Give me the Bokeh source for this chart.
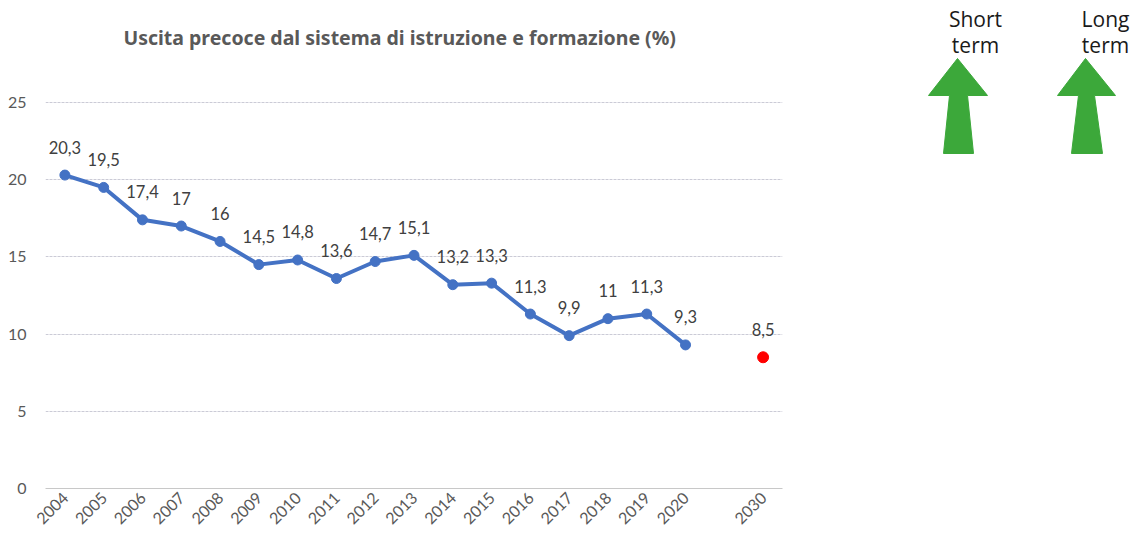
from math import pi
from bokeh.plotting import figure
from bokeh.models import FactorRange, Range1d, FixedTicker, Label, ColumnDataSource
from bokeh.layouts import row
from bokeh.core.properties import value
from bokeh.embed import file_html
from bokeh.resources import INLINE

# ---- data ----
years = ["2004", "2005", "2006", "2007", "2008", "2009", "2010", "2011", "2012",
         "2013", "2014", "2015", "2016", "2017", "2018", "2019", "2020"]
rates = [20.3, 19.5, 17.4, 17, 16, 14.5, 14.8, 13.6, 14.7, 15.1, 13.2, 13.3,
         11.3, 9.9, 11, 11.3, 9.3]
gap_cat = [" "]
target_year = ["2030"]
target_rate = [8.5]
y_ticks = [0, 5, 10, 15, 20, 25]
title_text = "Uscita precoce dal sistema di istruzione e formazione (%)"
arrow_titles = [["Short", "term"], ["Long", "term"]]


def fmt(v):
    return f"{v:g}".replace(".", ",")


factors = years + gap_cat + target_year

# layout constants (pixels): frame bottom at 488, value 25 drawn at 102
FRAME_BOTTOM = 488
TOP_TICK_PX = 102
px_per_unit = (FRAME_BOTTOM - TOP_TICK_PX) / 25
y_top = FRAME_BOTTOM / px_per_unit

p = figure(width=800, height=545, x_range=FactorRange(*factors, range_padding=0),
           y_range=Range1d(0, y_top), output_backend="svg", toolbar_location=None,
           min_border_left=45, min_border_right=18, min_border_top=0,
           min_border_bottom=545 - FRAME_BOTTOM)
p.frame_align = False
p.outline_line_color = None
p.background_fill_color = "white"
p.title.visible = False

p.yaxis.ticker = FixedTicker(ticks=y_ticks)
p.yaxis.axis_line_color = None
p.yaxis.major_tick_line_color = None
p.yaxis.minor_tick_line_color = None
p.yaxis.major_tick_out = 0
p.yaxis.major_label_standoff = 19
p.yaxis.major_label_text_font = "Lato"
p.yaxis.major_label_text_font_size = "16px"
p.yaxis.major_label_text_color = "#595959"

p.xaxis.axis_line_color = "#c8c8c8"
p.xaxis.major_tick_line_color = None
p.xaxis.minor_tick_line_color = None
p.xaxis.major_tick_out = 0
p.xaxis.major_label_orientation = pi / 4
p.xaxis.major_label_standoff = 6
p.xaxis.major_label_text_font = "Lato"
p.xaxis.major_label_text_font_size = "16px"
p.xaxis.major_label_text_color = "#595959"

p.xgrid.grid_line_color = None
p.ygrid.grid_line_color = "#cbcbd6"
p.ygrid.grid_line_dash = "3 1"

# chart title drawn inside the (taller) frame, above the 25 gridline
p.add_layout(Label(x=9.13, y=(FRAME_BOTTOM - 37) / px_per_unit, text=title_text,
                   text_align="center", text_baseline="middle",
                   text_font="Noto Sans", text_font_style="bold",
                   text_font_size="19.5px", text_color="#595959"))

src = ColumnDataSource(dict(x=years, y=rates, lab=[fmt(v) for v in rates]))
p.line("x", "y", source=src, line_width=4, line_color="#4472C4")
p.scatter("x", "y", source=src, size=10, fill_color="#4472C4", line_color="#4472C4")
p.text("x", "y", text="lab", source=src, y_offset=-28, text_align="center",
       text_baseline="middle", text_font=value("Lato"), text_font_size="16.5px",
       text_color="#404040")

tsrc = ColumnDataSource(dict(x=target_year, y=target_rate, lab=[fmt(v) for v in target_rate]))
p.scatter("x", "y", source=tsrc, size=11, fill_color="#ff0000", line_color="#ff0000")
p.text("x", "y", text="lab", source=tsrc, y_offset=-28, text_align="center",
       text_baseline="middle", text_font=value("Lato"), text_font_size="16.5px",
       text_color="#404040")

# ---- arrows panel ----
q = figure(width=340, height=545, x_range=Range1d(0, 340), y_range=Range1d(545, 0),
           output_backend="svg", toolbar_location=None,
           min_border=0, min_border_left=0, min_border_right=0,
           min_border_top=0, min_border_bottom=0)
q.frame_align = False
q.axis.visible = False
q.grid.visible = False
q.outline_line_color = None

arrow_shapes = [
    ([157, 187, 167, 173, 143, 149, 128], [58, 95, 95, 153, 153, 95, 95]),
    ([285, 315, 294, 302, 271, 278, 257], [58, 95, 95, 153, 153, 95, 95]),
]
for xs, ys in arrow_shapes:
    q.patch(xs, ys, fill_color="#3ca83a", line_color="#3ca83a", line_width=1)

text_x = [175, 305]
for tx, lines in zip(text_x, arrow_titles):
    for i, t in enumerate(lines):
        q.add_layout(Label(x=tx, y=18 + 26 * i, text=t, text_align="center",
                           text_baseline="middle", text_font="Open Sans",
                           text_font_size="21px", text_color="#1a1a1a"))

layout = row(p, q)
open("out.html", "w").write(file_html(layout, INLINE))
